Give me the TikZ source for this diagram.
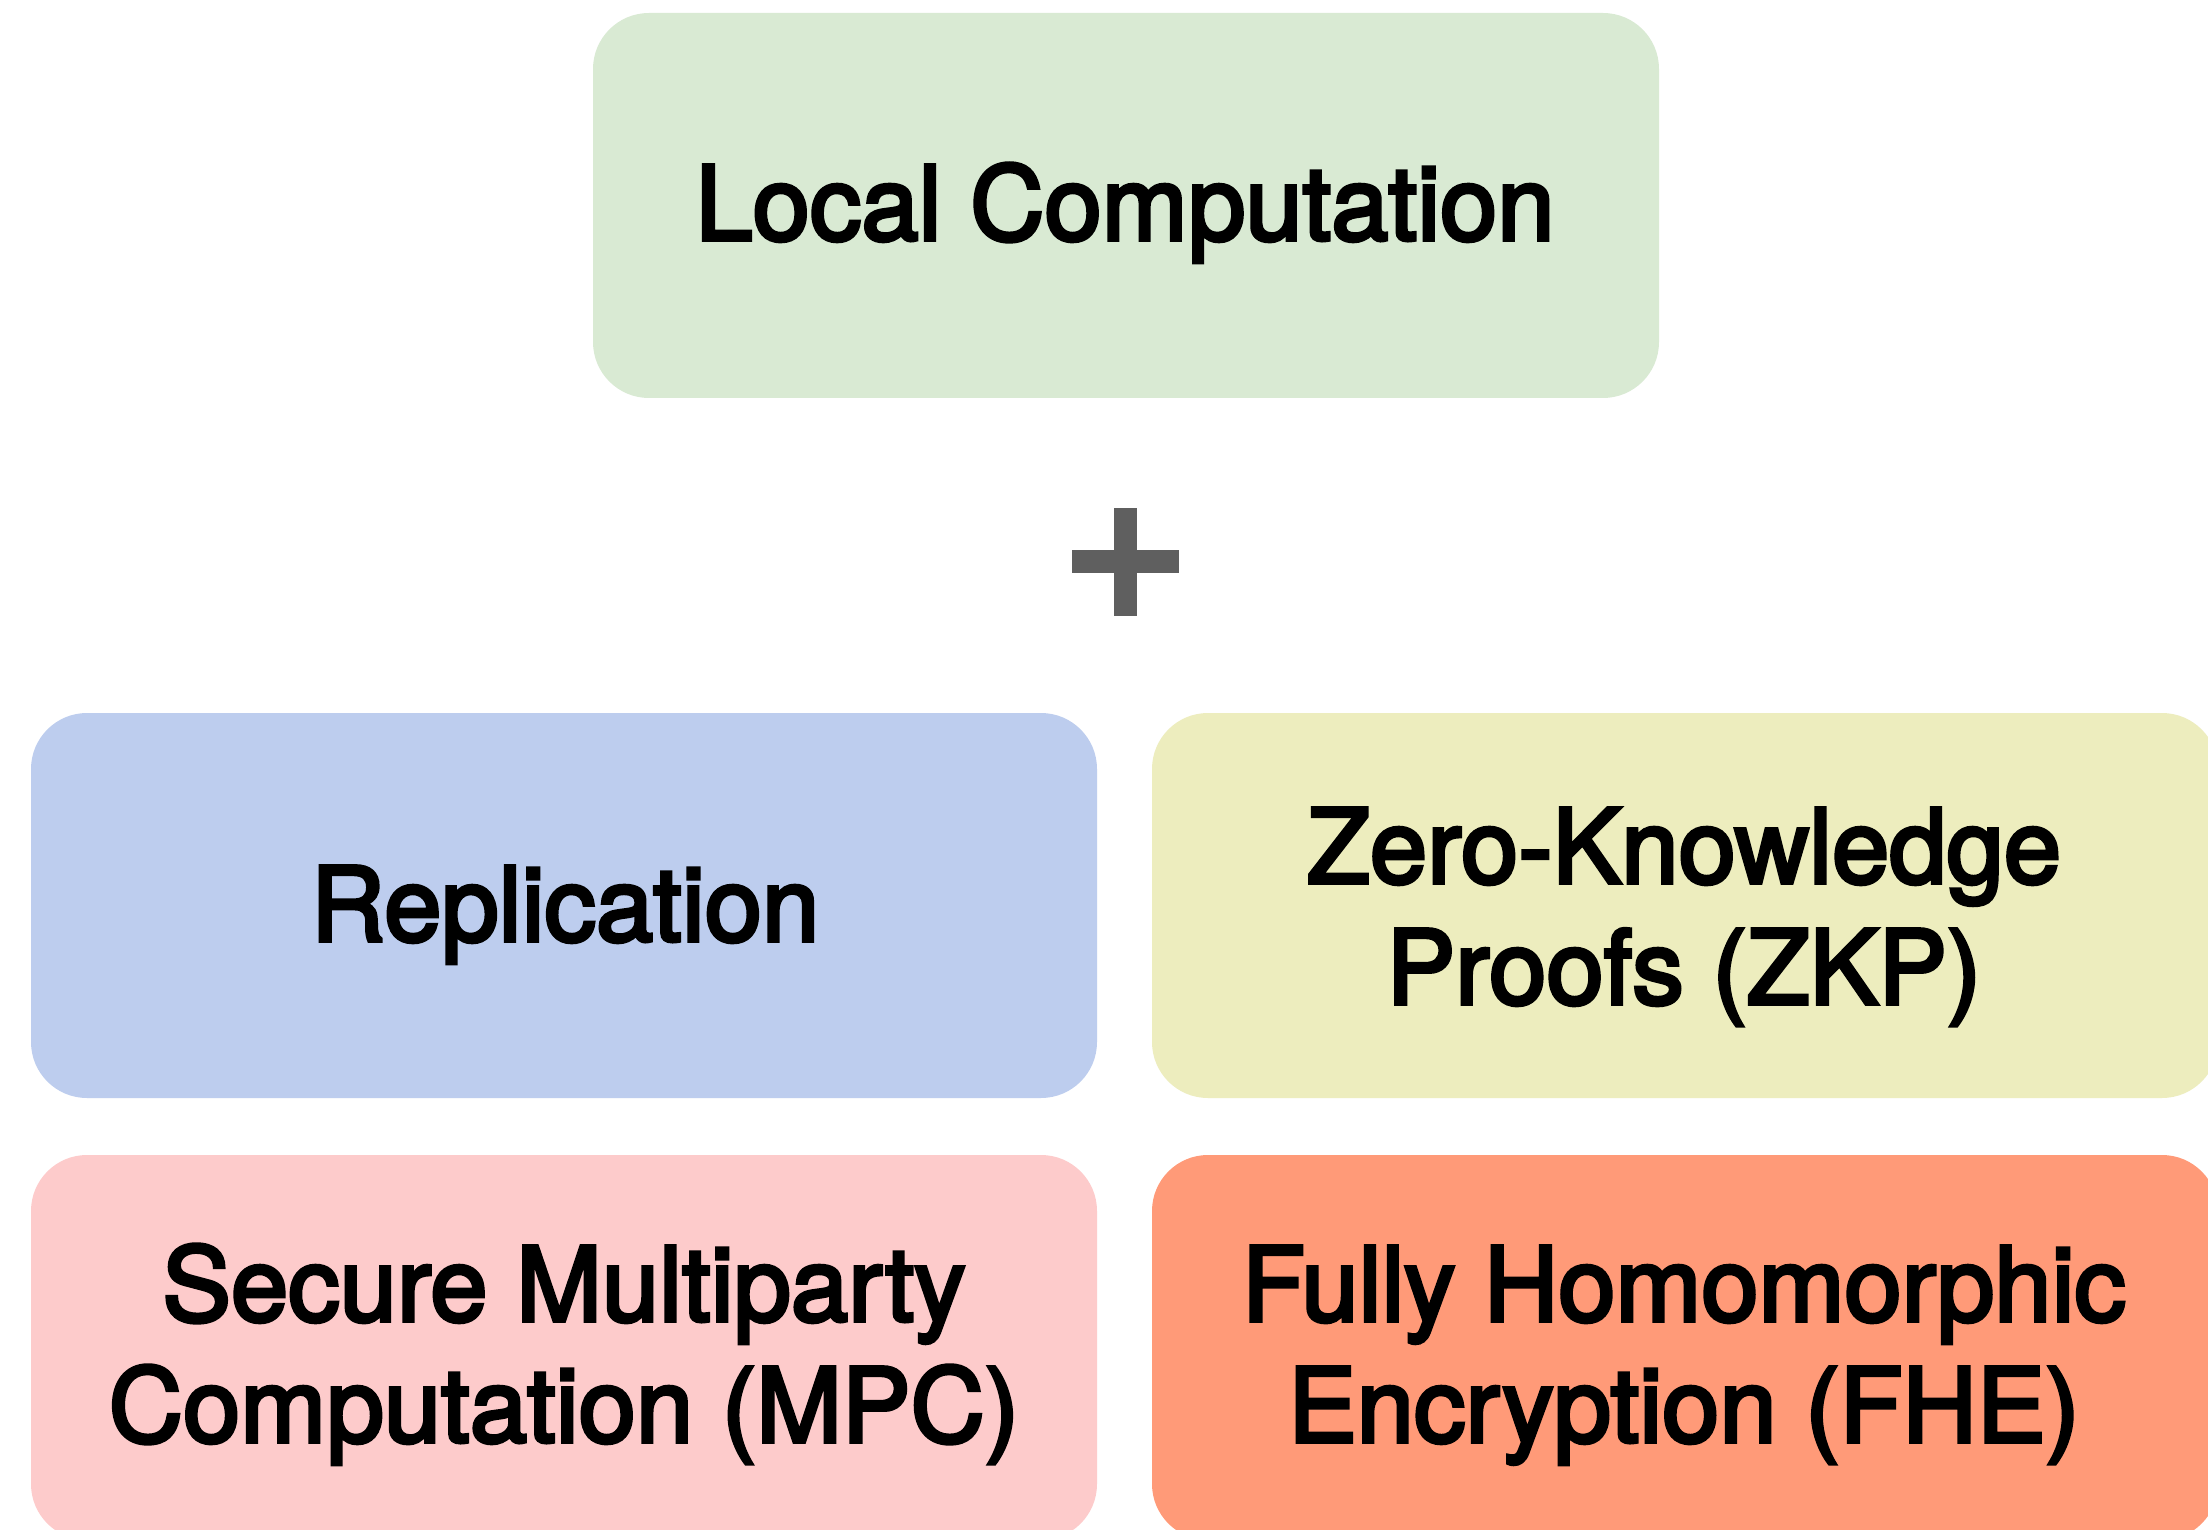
\documentclass[tikz,border=0pt]{standalone}
\usepackage{fontspec}
\setmainfont{TeX Gyre Heros}
\newfontfamily\medfont[FakeBold=3.5]{TeX Gyre Heros}
\definecolor{cgreen}{HTML}{D9EAD3}
\definecolor{cblue}{HTML}{BDCDEE}
\definecolor{cyellow}{HTML}{EDEDBE}
\definecolor{cpink}{HTML}{FDCBCB}
\definecolor{corange}{HTML}{FF9A78}
\definecolor{cplus}{HTML}{5F5F5F}
\begin{document}
\begin{tikzpicture}[x=0.5pt,y=-0.5pt,
  card/.style={rectangle, rounded corners=28pt, minimum width=533pt, minimum height=192.5pt,
    inner sep=0pt},
  label/.style={anchor=base, inner sep=0pt, align=center,
    font=\medfont\fontsize{51.5pt}{60.5pt}\selectfont, text=black}]
\useasboundingbox (0,0) rectangle (2208,1530);
\fill[white] (0,0) rectangle (2208,1530);
\node[card, fill=cgreen] (local) at (1126,205.5) {};
\fill[cplus] (1072,550) rectangle (1179,573);
\fill[cplus] (1114,508) rectangle (1137,616);
\node[card, fill=cblue] (repl) at (564,905.5) {};
\node[card, fill=cyellow] (zkp) at (1685,905.5) {};
\node[card, fill=cpink] (mpc) at (564,1347.5) {};
\node[card, fill=corange] (fhe) at (1685,1347.5) {};
\node[label] (localt) at (1125,240) {Local Computation};
\node[label] (replt) at (565,941) {Replication};
\node[label] (zkpt) at (1684,1004) {Zero-Knowledge\\Proofs (ZKP)};
\node[label] (mpct) at (564,1442) {Secure Multiparty\\Computation (MPC)};
\node[label] (fhet) at (1684,1442) {Fully Homomorphic\\Encryption (FHE)};
\end{tikzpicture}
\end{document}
